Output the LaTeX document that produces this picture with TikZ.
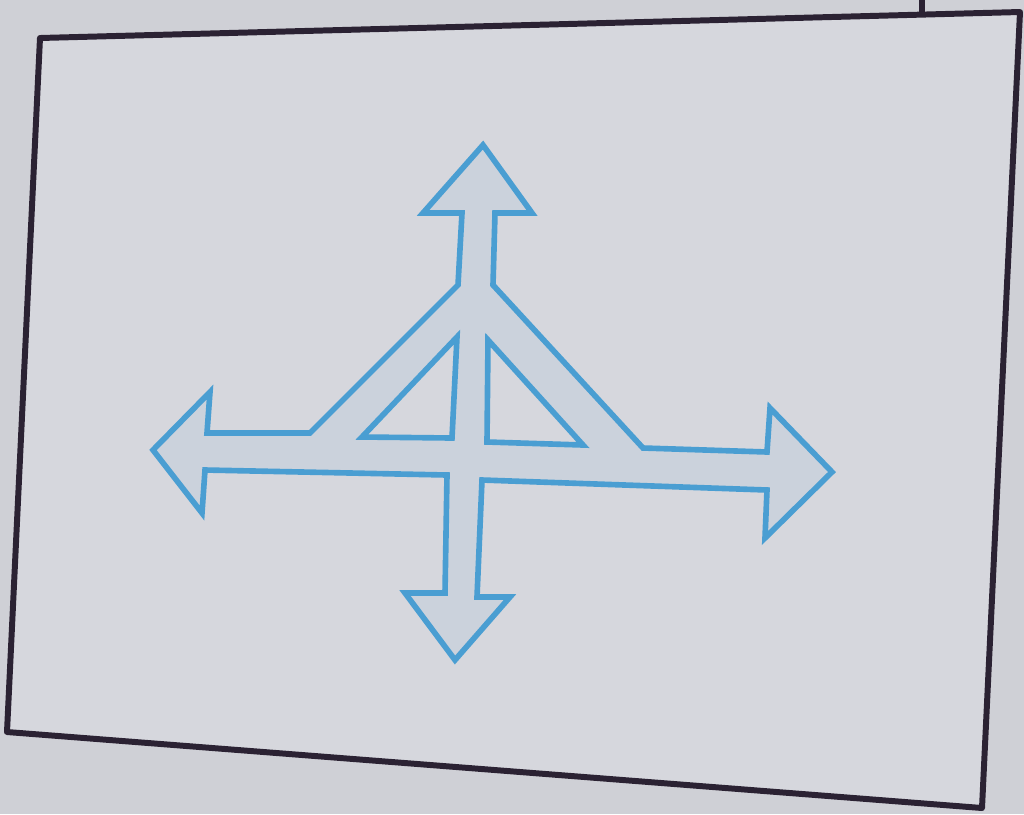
\documentclass[tikz,border=0pt]{standalone}
\definecolor{paper}{HTML}{CFD0D6}
\definecolor{sheet}{HTML}{D6D7DD}
\definecolor{inkblue}{HTML}{4A9ED2}
\definecolor{inkframe}{HTML}{2B2233}
\definecolor{tint}{HTML}{CBD2DC}
\begin{document}
\begin{tikzpicture}[x=0.01cm, y=-0.01cm,
    frameline/.style={draw=inkframe, line width=1.7pt, line join=round},
    arrowline/.style={draw=inkblue, line width=1.6pt, line join=miter, fill=tint, even odd rule}]
  \useasboundingbox (0,0) rectangle (1024,814);
  \fill[paper] (0,0) rectangle (1024,814);
  % sheet frame
  \draw[frameline, fill=sheet] (40,38) -- (1020,12) -- (982,808) -- (7,732) -- cycle;
  \draw[frameline] (922,0) -- (922,12);
  % four arrows with the triangle
  \draw[arrowline] (483,145) -- (532,213) -- (495,213) -- (493,285) -- (643,448) -- (767,452)
    -- (770,408) -- (832,472) -- (765,538) -- (767,490) -- (482,480) -- (477,597) -- (510,597)
    -- (455,660) -- (405,593) -- (445,593) -- (447,475) -- (205,470) -- (202,513) -- (153,450)
    -- (210,392) -- (207,433) -- (310,433) -- (458,285) -- (462,213) -- (423,213) -- cycle
    (457,337) -- (362,437) -- (452,438) -- cycle
    (488,340) -- (487,442) -- (583,445) -- cycle;
\end{tikzpicture}
\end{document}
